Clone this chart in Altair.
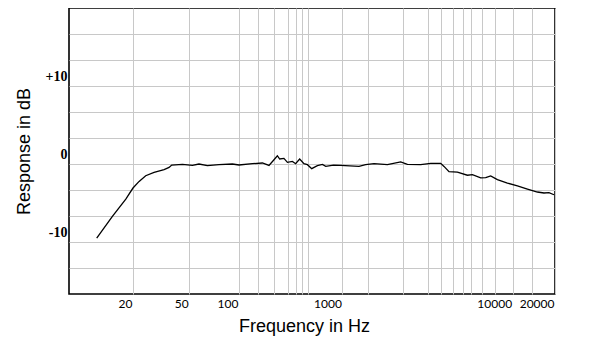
import altair as alt
import pandas as pd

freq_hz = [13.5, 16.0, 18.5, 20, 22.1, 24.6, 28.2, 33.2, 36.0, 37.6, 44.8,
           52.3, 57.3, 64.4, 75.7, 91.2, 100, 134.8, 168.4, 195, 218, 235,
           247.5, 272, 294, 328.5, 353, 386, 425, 459, 505, 573, 641, 690,
           820, 963, 1252, 1370, 1534, 1838, 2200, 2410, 2884, 3303, 3781,
           3954, 4230, 4739, 5426, 5805, 6495, 6950, 7435, 8141, 9320,
           10820, 12740, 15000, 16710, 18130, 19670]
response_db = [-9.49, -6.72, -4.49, -3.08, -2.23, -1.50, -1.08, -0.73, -0.44,
               -0.13, -0.05, -0.18, 0.0, -0.22, -0.09, 0.0, -0.13, 0.04, 0.13,
               -0.18, 0.55, 1.06, 0.64, 0.72, 0.21, 0.33, 0.04, 0.64, 0.04,
               -0.09, -0.60, -0.22, -0.05, -0.31, -0.15, -0.18, -0.31, -0.09,
               0.04, -0.09, 0.26, -0.05, -0.09, 0.08, 0.08, -0.31, -0.99,
               -1.05, -1.44, -1.37, -1.79, -1.76, -1.53, -2.01, -2.44, -2.82,
               -3.21, -3.59, -3.72, -3.68, -3.94]

# Axis ticks / grid
x_labels = [20, 50, 100, 1000, 10000, 20000]
x_grid = [20, 50, 100, 153, 220, 299, 353, 404, 462, 1000, 1418, 2283, 3184,
          3796, 4489, 5128, 5674, 6647, 7870, 10000, 13710, 20000]
y_grid = [-13.3333, -10, -6.6667, -3.3333, 0, 3.3333, 6.6667, 10,
          13.3333, 16.6667]

# The printed frequency axis is not evenly logarithmic: piecewise log scale
x_anchor_freqs = [10, 20, 50, 100, 1000, 10000, 20000]
x_anchor_px = [0, 64, 120.2, 170, 273.4, 443.6, 486]

df = pd.DataFrame({"freq": freq_hz, "db": response_db})

x_cond = " || ".join(f"datum.value == {v}" for v in x_labels)

chart = alt.Chart(df).mark_line(color="black", strokeWidth=1.3).encode(
    x=alt.X(
        "freq:Q",
        scale=alt.Scale(type="log", domain=x_anchor_freqs, range=x_anchor_px,
                        nice=False),
        axis=alt.Axis(
            values=x_grid,
            title="Frequency in Hz",
            format="d",
            labelExpr=f"({x_cond}) ? format(datum.value, 'd') : ''",
            labelAlign="right",
            labelOffset=-1,
            labelFlush=False,
            labelOverlap=False,
            labelPadding=4,
            labelFont="Lato",
            labelFontSize=12,
            labelColor="black",
            ticks=False,
            domain=False,
            grid=True,
            gridColor="#c8c8c8",
            gridWidth=1,
            titleFont="Liberation Sans",
            titleFontSize=18,
            titleFontWeight="normal",
            titleColor="black",
            titlePadding=8,
            titleX=235,
        ),
    ),
    y=alt.Y(
        "db:Q",
        scale=alt.Scale(domain=[-16.6667, 20], nice=False, zero=False),
        axis=alt.Axis(
            values=y_grid,
            title="Response in dB",
            labelExpr="abs(datum.value - 10) < 0.01 ? '+10' : (abs(datum.value) < 0.01 ? '0' : (abs(datum.value + 10) < 0.01 ? '-10' : ''))",
            labelBaseline="alphabetic",
            labelOffset=-5,
            labelPadding=2,
            labelFont="Liberation Serif",
            labelFontSize=14,
            labelFontWeight="bold",
            labelColor="black",
            labelOverlap=False,
            labelFlush=False,
            ticks=False,
            domain=False,
            grid=True,
            gridColor="#c8c8c8",
            gridWidth=1,
            titleFont="Liberation Sans",
            titleFontSize=18,
            titleFontWeight="normal",
            titleColor="black",
            titlePadding=12,
        ),
    ),
).properties(
    width=486,
    height=286,
    padding={"left": 7, "top": 0, "right": 5, "bottom": 5},
    background="white",
).configure_view(
    stroke="black",
    strokeWidth=1.6,
)

chart.save("out.html", embed_options={"renderer": "svg", "actions": False})
